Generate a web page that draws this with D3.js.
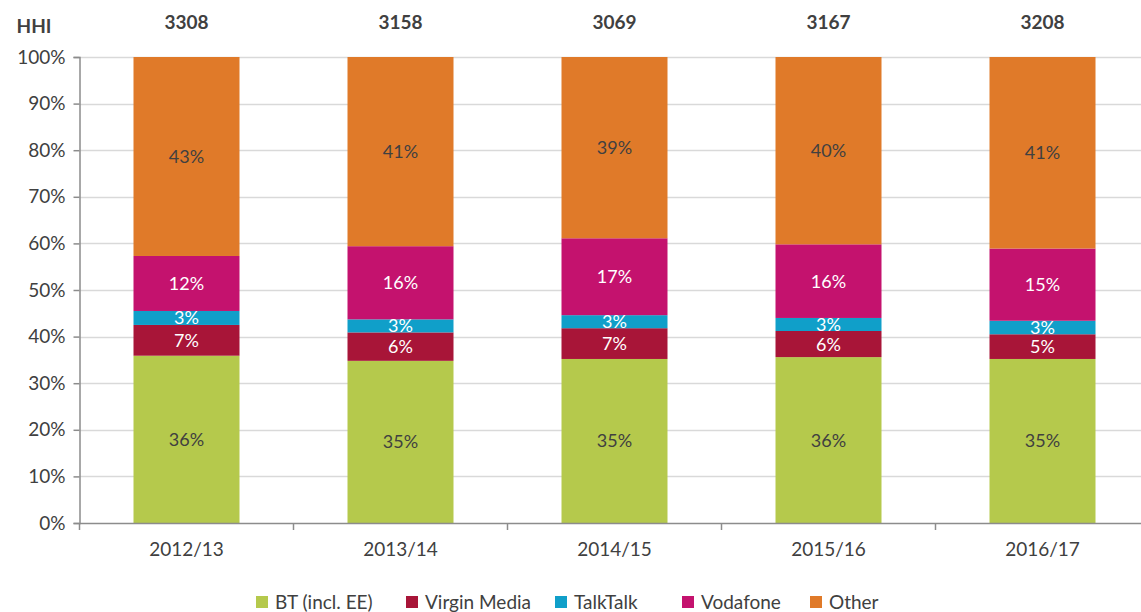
<!DOCTYPE html>
<html>
<head>
<meta charset="utf-8">
<script src="https://cdn.jsdelivr.net/npm/d3@7"></script>
<style>
  html, body { margin: 0; padding: 0; background: #fff; }
  svg { display: block; font-family: Lato, "Open Sans", sans-serif; }
</style>
</head>
<body>
<svg id="chart" width="1141" height="612"></svg>
<script>
// Cuota de mercado por año, con el HHI arriba de cada barra
const years = ['2012/13', '2013/14', '2014/15', '2015/16', '2016/17'];
const hhi = [3308, 3158, 3069, 3167, 3208];
const series = ['BT (incl. EE)', 'Virgin Media', 'TalkTalk', 'Vodafone', 'Other'];
const bt       = [35.9, 34.8, 35.2, 35.6, 35.2];
const virgin   = [6.6, 6.1, 6.6, 5.6, 5.3];
const talktalk = [3.0, 2.8, 2.8, 2.8, 2.9];
const vodafone = [11.8, 15.7, 16.5, 15.8, 15.5];
const other    = [42.7, 40.6, 38.9, 40.2, 41.1];
const labels = {
  'BT (incl. EE)': ['36%', '35%', '35%', '36%', '35%'],
  'Virgin Media':  ['7%', '6%', '7%', '6%', '5%'],
  'TalkTalk':      ['3%', '3%', '3%', '3%', '3%'],
  'Vodafone':      ['12%', '16%', '17%', '16%', '15%'],
  'Other':         ['43%', '41%', '39%', '40%', '41%'],
};
const yTicks = [0, 10, 20, 30, 40, 50, 60, 70, 80, 90, 100];

const COLORS = ['#B5C94C', '#A81538', '#109FC9', '#C4126E', '#E07A29'];
const LABEL_COLORS = ['#404040', '#ffffff', '#ffffff', '#ffffff', '#404040'];
const FONT = 'Lato, "Open Sans", sans-serif';

const rows = years.map((y, i) => ({
  year: y,
  'BT (incl. EE)': bt[i], 'Virgin Media': virgin[i], 'TalkTalk': talktalk[i],
  'Vodafone': vodafone[i], 'Other': other[i]
}));
const stacked = d3.stack().keys(series)(rows);

const svg = d3.select('#chart');
const x0 = 79.5, x1 = 1149.5, yTop = 57, yBot = 523;
const x = d3.scaleBand().domain(years).range([x0, x1]).paddingInner(0).paddingOuter(0);
const barW = 106;
const y = d3.scaleLinear().domain([0, 100]).range([yBot, yTop]);

// grilla
svg.append('g').selectAll('line').data(yTicks.filter(d => d > 0)).join('line')
  .attr('x1', x0).attr('x2', 1141)
  .attr('y1', d => Math.round(y(d)) + 0.5).attr('y2', d => Math.round(y(d)) + 0.5)
  .attr('stroke', '#d9d9d9').attr('stroke-width', 1.5);

// barras
const layers = svg.append('g').selectAll('g').data(stacked).join('g')
  .attr('fill', (d, i) => COLORS[i]);
layers.selectAll('rect').data(d => d).join('rect')
  .attr('x', d => x(d.data.year) + (x.bandwidth() - barW) / 2)
  .attr('width', barW)
  .attr('y', d => y(d[1]))
  .attr('height', d => y(d[0]) - y(d[1]));

// etiquetas dentro de cada segmento
stacked.forEach((layer, si) => {
  svg.append('g').selectAll('text').data(layer).join('text')
    .attr('x', d => x(d.data.year) + x.bandwidth() / 2)
    .attr('y', d => (y(d[0]) + y(d[1])) / 2)
    .attr('dy', '0.36em')
    .attr('text-anchor', 'middle')
    .attr('fill', LABEL_COLORS[si])
    .style('font-size', '18px')
    .text((d, i) => labels[layer.key][i]);
});

// eje Y
const yAxis = svg.append('g')
  .attr('transform', `translate(${x0},0)`)
  .call(d3.axisLeft(y).tickValues(yTicks).tickFormat(d => d + '%').tickSize(6).tickPadding(8));
yAxis.select('.domain').attr('stroke', '#8c8c8c').attr('stroke-width', 1.5);
yAxis.selectAll('.tick line').attr('stroke', '#8c8c8c').attr('stroke-width', 1.5);
yAxis.selectAll('.tick text').style('font-size', '19px').attr('fill', '#404040')
  .style('font-family', FONT);

// eje X
const xAxis = svg.append('g')
  .attr('transform', `translate(0,${yBot})`)
  .call(d3.axisBottom(x).tickSize(0).tickPadding(20));
xAxis.select('.domain').attr('stroke', '#8c8c8c').attr('stroke-width', 1.5);
xAxis.selectAll('.tick text').style('font-size', '19px').attr('fill', '#404040')
  .style('font-family', FONT);
// marcas entre categorías
svg.append('g').selectAll('line').data(years).join('line')
  .attr('x1', d => x(d)).attr('x2', d => x(d))
  .attr('y1', yBot).attr('y2', yBot + 7)
  .attr('stroke', '#8c8c8c').attr('stroke-width', 1.5);

// HHI
svg.append('text').attr('x', 34).attr('y', 26).attr('text-anchor', 'middle')
  .attr('dy', '0.36em').style('font-size', '19px').attr('font-weight', 700)
  .attr('fill', '#404040').text('HHI');
svg.append('g').selectAll('text').data(hhi).join('text')
  .attr('x', (d, i) => x(years[i]) + x.bandwidth() / 2)
  .attr('y', 22).attr('dy', '0.36em').attr('text-anchor', 'middle')
  .style('font-size', '19px').attr('font-weight', 700).attr('fill', '#404040')
  .text(d => d);

// leyenda
const legendX = [256, 406, 555, 682, 810];
const lg = svg.append('g').selectAll('g').data(series).join('g')
  .attr('transform', (d, i) => `translate(${legendX[i]},602)`);
lg.append('rect').attr('x', 0).attr('y', -6).attr('width', 12).attr('height', 12)
  .attr('fill', (d, i) => COLORS[i]);
lg.append('text').attr('x', 19).attr('dy', '0.36em')
  .style('font-size', '19px').attr('fill', '#404040').text(d => d);
</script>
</body>
</html>
